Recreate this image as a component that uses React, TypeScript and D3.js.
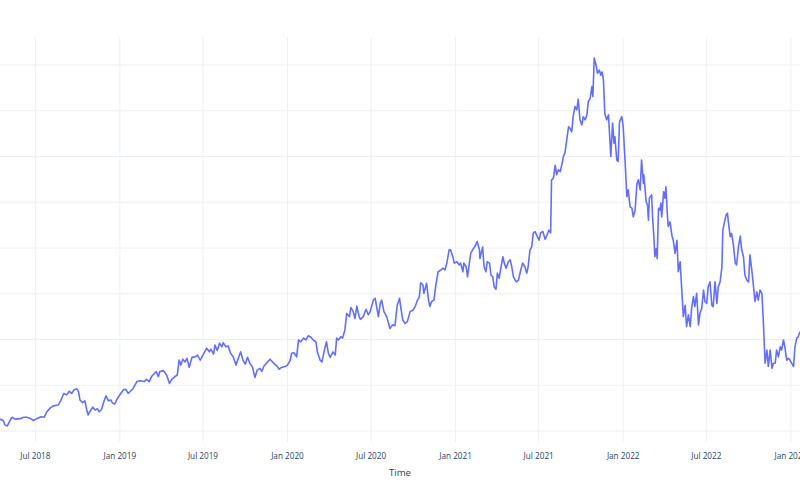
import { useEffect, useRef } from "react"
import * as d3 from "d3"

type Point = [string, number]

// daily closes, one array per calendar year
const prices2018: Point[] = [
  ["2018-04-15", 22.6], ["2018-04-22", 22.3], ["2018-04-26", 21.3], ["2018-05-01", 21.1],
  ["2018-05-07", 22.3], ["2018-05-11", 23.0], ["2018-05-18", 22.6], ["2018-05-29", 22.7],
  ["2018-06-06", 23.0], ["2018-06-12", 23.0], ["2018-06-19", 22.8], ["2018-06-27", 22.3],
  ["2018-07-04", 22.7], ["2018-07-13", 23.1], ["2018-07-20", 23.0], ["2018-07-26", 24.2],
  ["2018-08-02", 25.0], ["2018-08-09", 25.5], ["2018-08-20", 25.7], ["2018-08-25", 26.6],
  ["2018-09-01", 28.2], ["2018-09-07", 27.9], ["2018-09-13", 28.7], ["2018-09-18", 28.2],
  ["2018-09-23", 29.0], ["2018-09-29", 29.2], ["2018-10-03", 28.6], ["2018-10-06", 26.8],
  ["2018-10-12", 26.2], ["2018-10-17", 26.6], ["2018-10-21", 24.6], ["2018-10-24", 23.5],
  ["2018-10-30", 24.6], ["2018-11-03", 25.2], ["2018-11-08", 24.6], ["2018-11-13", 24.9],
  ["2018-11-17", 24.2], ["2018-11-22", 24.7], ["2018-11-27", 26.4], ["2018-12-02", 27.7],
  ["2018-12-07", 26.6], ["2018-12-12", 26.8], ["2018-12-16", 26.1], ["2018-12-21", 25.9],
  ["2018-12-25", 26.8], ["2018-12-29", 27.5],
]

const prices2019: Point[] = [
  ["2019-01-03", 28.2], ["2019-01-09", 29.0], ["2019-01-14", 29.1], ["2019-01-19", 28.2],
  ["2019-01-25", 28.8], ["2019-01-30", 29.3], ["2019-02-07", 30.8], ["2019-02-14", 31.0],
  ["2019-02-23", 30.8], ["2019-02-28", 31.3], ["2019-03-06", 30.8], ["2019-03-11", 31.9],
  ["2019-03-21", 33.0], ["2019-03-26", 31.9], ["2019-03-29", 33.0], ["2019-04-06", 33.2],
  ["2019-04-13", 32.2], ["2019-04-19", 30.4], ["2019-04-24", 31.3], ["2019-05-01", 31.9],
  ["2019-05-06", 32.2], ["2019-05-10", 35.5], ["2019-05-14", 34.4], ["2019-05-18", 35.7],
  ["2019-05-23", 35.1], ["2019-05-27", 35.9], ["2019-06-01", 33.9], ["2019-06-07", 36.1],
  ["2019-06-14", 36.2], ["2019-06-19", 36.6], ["2019-06-25", 35.5], ["2019-06-30", 36.4],
  ["2019-07-09", 38.1], ["2019-07-15", 37.3], ["2019-07-18", 37.9], ["2019-07-24", 36.8],
  ["2019-07-27", 38.8], ["2019-08-01", 37.6], ["2019-08-06", 39.2], ["2019-08-11", 38.4],
  ["2019-08-14", 39.3], ["2019-08-20", 38.4], ["2019-08-25", 38.6], ["2019-08-30", 37.0],
  ["2019-09-05", 36.2], ["2019-09-11", 34.4], ["2019-09-16", 35.9], ["2019-09-21", 37.3],
  ["2019-09-26", 35.5], ["2019-10-01", 34.6], ["2019-10-06", 36.1], ["2019-10-11", 34.8],
  ["2019-10-17", 33.9], ["2019-10-22", 31.7], ["2019-10-27", 33.3], ["2019-11-02", 33.7],
  ["2019-11-06", 33.0], ["2019-11-11", 34.2], ["2019-11-17", 34.9], ["2019-11-24", 35.7],
  ["2019-12-01", 34.9], ["2019-12-09", 34.2], ["2019-12-14", 33.5], ["2019-12-19", 33.9],
  ["2019-12-27", 34.1],
]

const prices2020: Point[] = [
  ["2020-01-01", 34.4], ["2020-01-07", 35.5], ["2020-01-10", 37.0], ["2020-01-15", 37.1],
  ["2020-01-21", 36.2], ["2020-01-25", 39.9], ["2020-01-30", 39.5], ["2020-02-05", 40.3],
  ["2020-02-10", 39.9], ["2020-02-15", 40.8], ["2020-02-21", 40.5], ["2020-02-26", 39.9],
  ["2020-03-03", 39.5], ["2020-03-06", 37.3], ["2020-03-12", 35.5], ["2020-03-16", 35.1],
  ["2020-03-23", 38.4], ["2020-03-26", 39.5], ["2020-03-30", 37.0], ["2020-04-03", 36.1],
  ["2020-04-09", 37.3], ["2020-04-14", 36.6], ["2020-04-17", 40.3], ["2020-04-21", 39.9],
  ["2020-04-26", 40.6], ["2020-04-30", 40.3], ["2020-05-05", 42.1], ["2020-05-09", 45.7],
  ["2020-05-15", 45.0], ["2020-05-18", 47.0], ["2020-05-23", 46.1], ["2020-05-27", 44.6],
  ["2020-05-31", 47.3], ["2020-06-05", 45.0], ["2020-06-08", 44.4], ["2020-06-14", 45.0],
  ["2020-06-20", 46.6], ["2020-06-25", 45.4], ["2020-06-29", 46.1], ["2020-07-06", 48.6],
  ["2020-07-10", 49.0], ["2020-07-13", 47.2], ["2020-07-17", 45.0], ["2020-07-21", 47.9],
  ["2020-07-24", 48.6], ["2020-07-29", 46.1], ["2020-08-04", 45.0], ["2020-08-11", 42.4],
  ["2020-08-17", 43.2], ["2020-08-22", 43.0], ["2020-08-27", 47.5], ["2020-09-01", 49.0],
  ["2020-09-04", 46.8], ["2020-09-08", 44.3], ["2020-09-13", 43.5], ["2020-09-18", 43.9],
  ["2020-09-24", 46.1], ["2020-09-30", 46.4], ["2020-10-05", 47.2], ["2020-10-10", 48.6],
  ["2020-10-14", 49.2], ["2020-10-17", 52.4], ["2020-10-22", 51.9], ["2020-10-24", 50.1],
  ["2020-10-30", 52.3], ["2020-11-03", 48.6], ["2020-11-06", 47.2], ["2020-11-10", 48.3],
  ["2020-11-15", 48.6], ["2020-11-19", 51.9], ["2020-11-24", 54.8], ["2020-11-30", 55.2],
  ["2020-12-05", 55.6], ["2020-12-09", 55.2], ["2020-12-13", 56.7], ["2020-12-18", 59.6],
  ["2020-12-21", 59.6], ["2020-12-26", 58.1], ["2020-12-29", 56.7],
]

const prices2021: Point[] = [
  ["2021-01-04", 57.0], ["2021-01-09", 56.3], ["2021-01-12", 56.7], ["2021-01-17", 54.8],
  ["2021-01-19", 56.7], ["2021-01-24", 55.9], ["2021-01-27", 53.7], ["2021-01-31", 56.7],
  ["2021-02-03", 58.8], ["2021-02-07", 59.6], ["2021-02-12", 60.3], ["2021-02-17", 61.4],
  ["2021-02-22", 59.6], ["2021-02-23", 57.7], ["2021-03-01", 60.2], ["2021-03-04", 55.9],
  ["2021-03-08", 54.8], ["2021-03-11", 57.0], ["2021-03-16", 56.7], ["2021-03-19", 54.1],
  ["2021-03-23", 53.7], ["2021-03-26", 51.5], ["2021-03-30", 51.0], ["2021-04-02", 54.5],
  ["2021-04-06", 53.4], ["2021-04-09", 55.2], ["2021-04-14", 58.1], ["2021-04-17", 56.7],
  ["2021-04-21", 55.6], ["2021-04-26", 57.0], ["2021-04-30", 57.4], ["2021-05-03", 56.1],
  ["2021-05-07", 53.7], ["2021-05-13", 52.6], ["2021-05-18", 53.0], ["2021-05-23", 55.2],
  ["2021-05-27", 56.7], ["2021-06-01", 55.9], ["2021-06-05", 54.5], ["2021-06-08", 55.9],
  ["2021-06-12", 59.6], ["2021-06-16", 60.3], ["2021-06-19", 63.2], ["2021-06-23", 63.6],
  ["2021-06-28", 62.5], ["2021-07-02", 61.7], ["2021-07-05", 63.3], ["2021-07-10", 63.6],
  ["2021-07-15", 61.9], ["2021-07-19", 62.8], ["2021-07-23", 63.9], ["2021-07-27", 63.3],
  ["2021-07-29", 74.9], ["2021-08-02", 75.2], ["2021-08-06", 78.1], ["2021-08-09", 76.0],
  ["2021-08-13", 77.1], ["2021-08-17", 76.7], ["2021-08-21", 78.5], ["2021-08-24", 80.1],
  ["2021-08-27", 80.7], ["2021-08-31", 83.6], ["2021-09-04", 86.5], ["2021-09-07", 86.2],
  ["2021-09-11", 85.4], ["2021-09-14", 88.7], ["2021-09-18", 90.9], ["2021-09-22", 90.2],
  ["2021-09-25", 92.5], ["2021-09-29", 88.0], ["2021-10-03", 86.9], ["2021-10-06", 88.7],
  ["2021-10-10", 88.0], ["2021-10-14", 89.1], ["2021-10-17", 92.0], ["2021-10-21", 92.7],
  ["2021-10-25", 95.3], ["2021-10-27", 93.1], ["2021-10-30", 101.5], ["2021-11-03", 100.0],
  ["2021-11-06", 98.2], ["2021-11-10", 98.9], ["2021-11-13", 97.8], ["2021-11-16", 98.5],
  ["2021-11-19", 96.7], ["2021-11-22", 89.4], ["2021-11-26", 88.0], ["2021-11-30", 89.1],
  ["2021-12-03", 83.6], ["2021-12-05", 80.0], ["2021-12-09", 87.3], ["2021-12-12", 82.9],
  ["2021-12-14", 84.3], ["2021-12-18", 79.2], ["2021-12-21", 78.9], ["2021-12-24", 87.6],
  ["2021-12-29", 88.7],
]

const prices2022: Point[] = [
  ["2022-01-01", 86.5], ["2022-01-05", 79.2], ["2022-01-09", 71.2], ["2022-01-12", 72.7],
  ["2022-01-16", 69.0], ["2022-01-20", 68.7], ["2022-01-23", 66.8], ["2022-01-27", 68.3],
  ["2022-01-31", 74.1], ["2022-02-03", 74.9], ["2022-02-07", 72.7], ["2022-02-10", 79.2],
  ["2022-02-14", 74.1], ["2022-02-15", 76.0], ["2022-02-20", 70.1], ["2022-02-23", 69.4],
  ["2022-02-25", 66.1], ["2022-02-27", 70.9], ["2022-03-04", 71.6], ["2022-03-06", 66.8],
  ["2022-03-09", 62.1], ["2022-03-11", 58.1], ["2022-03-14", 59.9], ["2022-03-16", 57.7],
  ["2022-03-19", 68.7], ["2022-03-22", 68.3], ["2022-03-24", 69.8], ["2022-03-26", 66.8],
  ["2022-03-30", 72.3], ["2022-04-02", 70.9], ["2022-04-04", 73.4], ["2022-04-07", 67.6],
  ["2022-04-09", 64.7], ["2022-04-13", 65.7], ["2022-04-17", 62.8], ["2022-04-20", 61.7],
  ["2022-04-24", 58.8], ["2022-04-28", 61.7], ["2022-05-01", 54.8], ["2022-05-05", 57.0],
  ["2022-05-09", 50.1], ["2022-05-12", 45.0], ["2022-05-16", 47.5], ["2022-05-19", 42.8],
  ["2022-05-23", 45.4], ["2022-05-27", 42.8], ["2022-05-30", 46.8], ["2022-06-03", 49.4],
  ["2022-06-06", 47.2], ["2022-06-10", 50.1], ["2022-06-14", 43.2], ["2022-06-17", 45.7],
  ["2022-06-21", 46.8], ["2022-06-25", 50.8], ["2022-06-28", 48.3], ["2022-07-02", 47.9],
  ["2022-07-05", 51.5], ["2022-07-09", 52.6], ["2022-07-13", 47.5], ["2022-07-16", 47.2],
  ["2022-07-20", 52.6], ["2022-07-24", 47.9], ["2022-07-27", 51.5], ["2022-07-31", 52.6],
  ["2022-08-04", 55.9], ["2022-08-06", 63.9], ["2022-08-09", 65.4], ["2022-08-13", 67.2],
  ["2022-08-16", 67.6], ["2022-08-18", 65.7], ["2022-08-22", 62.5], ["2022-08-25", 63.2],
  ["2022-08-29", 60.7], ["2022-09-02", 56.7], ["2022-09-05", 56.3], ["2022-09-09", 60.3],
  ["2022-09-13", 62.6], ["2022-09-16", 59.6], ["2022-09-20", 58.1], ["2022-09-23", 54.1],
  ["2022-09-27", 53.0], ["2022-10-01", 52.6], ["2022-10-04", 58.5], ["2022-10-08", 55.2],
  ["2022-10-11", 52.3], ["2022-10-15", 48.3], ["2022-10-19", 50.4], ["2022-10-22", 48.6],
  ["2022-10-26", 50.8], ["2022-10-30", 50.1], ["2022-11-02", 44.3], ["2022-11-06", 34.8],
  ["2022-11-10", 37.7], ["2022-11-13", 34.1], ["2022-11-17", 37.7], ["2022-11-21", 33.7],
  ["2022-11-24", 34.8], ["2022-11-28", 34.8], ["2022-12-01", 37.7], ["2022-12-05", 36.2],
  ["2022-12-09", 38.4], ["2022-12-12", 37.7], ["2022-12-16", 39.9], ["2022-12-19", 38.4],
  ["2022-12-23", 35.5], ["2022-12-27", 35.9], ["2022-12-30", 35.5],
]

const prices2023: Point[] = [
  ["2023-01-03", 34.8], ["2023-01-07", 34.1], ["2023-01-10", 38.4], ["2023-01-14", 40.3],
  ["2023-01-17", 40.6], ["2023-01-21", 41.7],
]

const yTicks = [20, 30, 40, 50, 60, 70, 80, 90, 100]
const xTickDates = [
  "2018-07-01", "2019-01-01", "2019-07-01", "2020-01-01", "2020-07-01",
  "2021-01-01", "2021-07-01", "2022-01-01", "2022-07-01", "2023-01-01",
]
const xDomain = ["2018-04-15", "2023-01-21"]
const xTitle = "Time"

const width = 800
const height = 500
const plot = { left: 0, right: 800, top: 37, bottom: 442 }
const fontFamily = '"Open Sans", "DejaVu Sans", sans-serif'
const textColor = "#2a3f5f"
const gridColor = "#ebf0f8"

export default function App() {
  const svgRef = useRef<SVGSVGElement | null>(null)

  useEffect(() => {
    if (!svgRef.current) {
      return
    }

    const svg = d3.select(svgRef.current)
    svg.selectAll("*").remove()

    const parse = d3.timeParse("%Y-%m-%d")
    const data = [...prices2018, ...prices2019, ...prices2020, ...prices2021, ...prices2022, ...prices2023]
      .map(([date, value]) => ({ date: parse(date) as Date, value }))

    const x = d3
      .scaleTime()
      .domain(xDomain.map((d) => parse(d) as Date))
      .range([plot.left, plot.right])

    const y = d3.scaleLinear().domain([20, 100]).range([431, 65])

    svg.append("rect").attr("width", width).attr("height", height).attr("fill", "#fff")

    svg
      .append("defs")
      .append("clipPath")
      .attr("id", "plot-clip")
      .append("rect")
      .attr("x", plot.left)
      .attr("y", plot.top)
      .attr("width", plot.right - plot.left)
      .attr("height", plot.bottom - plot.top)

    const tickDates = xTickDates.map((d) => parse(d) as Date)

    svg
      .append("g")
      .selectAll("line")
      .data(tickDates)
      .join("line")
      .attr("x1", (d) => x(d))
      .attr("x2", (d) => x(d))
      .attr("y1", plot.top)
      .attr("y2", plot.bottom)
      .attr("stroke", gridColor)
      .attr("stroke-width", 1)

    svg
      .append("g")
      .selectAll("line")
      .data(yTicks)
      .join("line")
      .attr("x1", plot.left)
      .attr("x2", plot.right)
      .attr("y1", (d) => y(d))
      .attr("y2", (d) => y(d))
      .attr("stroke", gridColor)
      .attr("stroke-width", 1)

    const line = d3
      .line<{ date: Date; value: number }>()
      .x((d) => x(d.date))
      .y((d) => y(d.value))

    svg
      .append("path")
      .datum(data)
      .attr("clip-path", "url(#plot-clip)")
      .attr("d", line)
      .attr("fill", "none")
      .attr("stroke", "#636efa")
      .attr("stroke-width", 1.6)
      .attr("stroke-linejoin", "round")

    const formatTick = d3.timeFormat("%b %Y")

    svg
      .append("g")
      .selectAll("text")
      .data(tickDates)
      .join("text")
      .text((d) => formatTick(d))
      .attr("x", (d) => x(d))
      .attr("y", 458.5)
      .attr("text-anchor", "middle")
      .attr("fill", textColor)
      .attr("font-family", fontFamily)
      .attr("font-size", 8.2)

    svg
      .append("text")
      .text(xTitle)
      .attr("x", 400)
      .attr("y", 476)
      .attr("text-anchor", "middle")
      .attr("fill", textColor)
      .attr("font-family", fontFamily)
      .attr("font-size", 9.6)
  }, [])

  return (
    <svg
      ref={svgRef}
      width={width}
      height={height}
      style={{ position: "absolute", left: 0, top: 0, display: "block" }}
    />
  )
}
